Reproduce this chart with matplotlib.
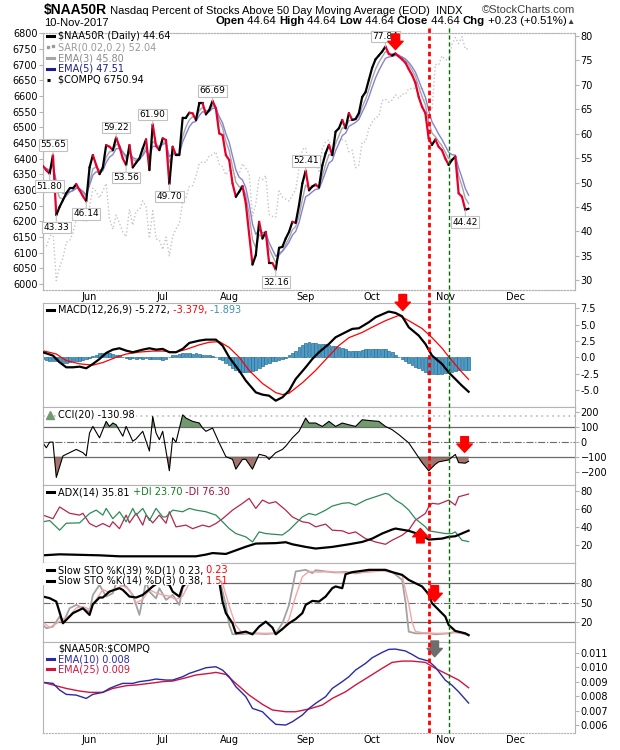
import numpy as np
import matplotlib
matplotlib.use('Agg')
import matplotlib.pyplot as plt
from matplotlib.collections import LineCollection
from matplotlib.lines import Line2D
from matplotlib.patches import Rectangle

plt.rcParams['font.family'] = ['DejaVu Sans']

# x axis is trading-day index, 0 = 11-May-2017, 128 = 10-Nov-2017
month_idx = [14, 36, 56, 79, 99, 121, 142]
month_lbl = ['Jun', 'Jul', 'Aug', 'Sep', 'Oct', 'Nov', 'Dec']

# $NAA50R close
close = [53.4, 52.5, 51.80, 55.65, 43.33, 45.03, 46.39, 47.8, 48.78, 48.78,
         49.67, 48.44, 47.21, 46.14, 53.09, 55.61, 53.57, 51.72, 53.09, 57.66,
         57.32, 56.63, 59.22, 57.32, 54.93, 53.56, 57.66, 53.09, 54.04, 54.93,
         56.97, 58.83, 52.54, 61.90, 57.46, 56.63, 59.04, 58.69, 49.70, 57.32,
         55.61, 55.61, 63.27, 63.27, 64.29, 64.15, 62.79, 66.20, 66.20, 63.95,
         64.84, 66.69, 65.18, 60.05, 59.71, 55.61, 54.59, 49.81, 47.08, 48.10,
         49.26, 45.71, 39.43, 33.21, 35.12, 41.95, 38.54, 39.90, 33.55, 33.55,
         32.16, 36.63, 36.83, 38.54, 39.90, 41.95, 41.75, 45.37, 49.81, 52.41,
         48.4, 49.2, 49.6, 49.0, 53.5, 56.0, 57.7, 55.6, 60.4, 61.1,
         62.8, 61.1, 64.2, 62.8, 63.0, 64.2, 67.5, 68.5, 71.0, 73.5,
         75.2, 76.0, 76.8, 77.84, 76.3, 76.0, 76.4, 75.8, 75.2, 74.5,
         73.2, 72.0, 70.4, 67.5, 65.5, 64.2, 59.0, 57.7, 58.8, 57.3,
         56.6, 54.9, 53.6, 54.6, 55.3, 47.8, 47.1, 44.42, 44.64]

ema3 = [53.2, 52.85, 52.3, 54.0, 48.7, 46.9, 46.6, 47.2, 48.0, 48.4,
        49.0, 48.7, 48.0, 47.1, 50.1, 52.8, 53.2, 52.5, 52.8, 55.2,
        56.3, 56.4, 57.8, 57.6, 56.2, 54.9, 56.3, 54.7, 54.4, 54.6,
        55.8, 57.3, 54.9, 58.4, 57.9, 57.3, 58.2, 58.4, 54.1, 55.7,
        55.7, 55.6, 59.4, 61.4, 62.8, 63.5, 63.1, 64.7, 65.4, 64.7,
        64.8, 65.7, 65.4, 62.7, 61.2, 58.4, 56.5, 53.2, 50.1, 49.1,
        49.2, 47.4, 43.4, 38.3, 36.7, 39.3, 38.9, 39.4, 36.5, 35.0,
        33.6, 35.1, 36.0, 37.3, 38.6, 40.3, 41.0, 43.2, 46.5, 49.5,
        48.9, 49.1, 49.3, 49.2, 51.3, 53.7, 55.7, 55.6, 58.0, 59.6,
        61.2, 61.1, 62.7, 62.7, 62.9, 63.5, 65.5, 67.0, 69.0, 71.3,
        73.2, 74.6, 75.7, 76.8, 76.5, 76.3, 76.3, 76.1, 75.6, 75.1,
        74.1, 73.0, 71.7, 69.6, 67.6, 65.9, 62.4, 60.1, 59.4, 58.4,
        57.5, 56.2, 54.9, 54.7, 55.0, 51.4, 49.3, 46.8, 45.7]

ema5 = [53.1, 52.9, 52.5, 53.6, 50.2, 48.5, 47.8, 47.8, 48.1, 48.3,
        48.8, 48.7, 48.2, 47.5, 49.4, 51.5, 52.2, 52.0, 52.4, 54.1,
        55.2, 55.7, 56.9, 57.0, 56.3, 55.4, 56.2, 55.1, 54.8, 54.8,
        55.5, 56.6, 55.2, 57.4, 57.4, 57.2, 57.8, 58.1, 55.3, 56.0,
        55.9, 55.8, 58.3, 59.9, 61.4, 62.3, 62.5, 63.7, 64.5, 64.3,
        64.5, 65.2, 65.2, 63.5, 62.2, 60.0, 58.2, 55.4, 52.6, 51.1,
        50.5, 48.9, 45.7, 41.5, 39.4, 40.3, 39.7, 39.8, 37.7, 36.3,
        34.9, 35.5, 35.9, 36.8, 37.8, 39.2, 40.0, 41.8, 44.5, 47.1,
        47.5, 48.1, 48.6, 48.7, 50.3, 52.2, 54.0, 54.5, 56.5, 58.0,
        59.6, 60.1, 61.5, 61.9, 62.3, 62.9, 64.4, 65.8, 67.5, 69.5,
        71.4, 72.9, 74.2, 75.4, 75.7, 75.8, 76.0, 75.9, 75.7, 75.3,
        74.6, 73.7, 72.6, 70.9, 69.1, 67.5, 64.7, 62.4, 61.2, 59.9,
        58.8, 57.5, 56.2, 55.7, 55.6, 53.0, 51.0, 48.8, 47.4]

compq = [6115, 6121, 6149, 6170, 6011, 6055, 6083, 6133, 6138, 6163, 6205, 6210, 6203, 6199,
         6247, 6306, 6295, 6275, 6297, 6321, 6208, 6175, 6220, 6194, 6166, 6151, 6239, 6188,
         6233, 6237, 6265, 6247, 6146, 6234, 6144, 6140,
         6110, 6150, 6090, 6153, 6176, 6194, 6261, 6275, 6312, 6314, 6344, 6385, 6390, 6388,
         6410, 6412, 6422, 6382, 6374, 6348,
         6362, 6363, 6340, 6352, 6384, 6370, 6352, 6217, 6256, 6340, 6333, 6346, 6222, 6216,
         6213, 6297, 6278, 6271, 6265, 6283, 6301, 6368, 6429,
         6435, 6375, 6393, 6397, 6360, 6432, 6454, 6460, 6429, 6448, 6454, 6461, 6456, 6422,
         6427, 6371, 6380, 6453, 6454, 6496,
         6516, 6532, 6535, 6585, 6590, 6580, 6587, 6604, 6592, 6606, 6605, 6624, 6623, 6625,
         6605, 6629, 6586, 6564, 6556, 6701, 6699, 6728,
         6716, 6715, 6764, 6787, 6767, 6789, 6750, 6751]

# labelled closes: index and side of the box
lbl_idx = [3, 2, 4, 13, 22, 25, 33, 38, 51, 70, 79, 103, 127]
lbl_up = [True, False, False, False, True, False, True, False, True, False, True, True, False]

# MACD(12,26,9)
macd_x = [0, 3, 5, 7, 9, 11, 13, 15, 17, 19, 21, 23, 25, 27, 30, 32, 34, 36, 38, 40,
          42, 44, 47, 49, 52, 54, 56, 59, 61, 64, 66, 68, 70, 72, 74, 76, 79, 81, 83, 86,
          88, 91, 93, 95, 98, 100, 103, 104, 106, 108, 110, 113, 115, 117, 120, 122, 124, 126, 128]
macd_y = [0.77, 0.26, -0.77, -1.53, -1.53, -1.43, -1.68, -1.02, -0.26, 0.66,
          1.17, 1.38, 1.02, 0.77, 1.17, 1.38, 1.17, 1.28, 0.77, 0.77,
          1.28, 2.19, 2.55, 2.70, 2.70, 1.79, 0.0, -2.04, -3.57, -5.36,
          -5.71, -5.87, -6.63, -6.12, -5.10, -3.32, -1.53, -0.26, 0.77, 2.04,
          3.06, 3.83, 4.34, 4.44, 5.36, 6.12, 6.78, 6.99, 6.78, 6.27,
          4.59, 3.32, 2.04, 0.26, -1.02, -2.30, -3.32, -4.34, -5.27]
sig_x = [0, 4, 7, 11, 15, 18, 22, 25, 29, 33, 36, 40, 43, 47, 50, 53, 56, 59, 62, 66,
         70, 72, 74, 78, 82, 86, 89, 92, 96, 99, 103, 107, 110, 114, 117, 120, 122, 124, 126, 128]
sig_y = [1.0, 0.5, -0.5, -1.0, -1.2, -0.8, 0.0, 0.5, 0.8, 0.95,
         0.95, 0.8, 1.2, 1.9, 2.3, 2.4, 1.5, 0.0, -2.0, -4.0,
         -5.4, -5.7, -5.5, -3.9, -2.0, 0.2, 1.8, 3.0, 3.8, 4.6,
         5.6, 6.4, 5.6, 4.4, 3.0, 1.4, 0.1, -1.1, -2.3, -3.38]
hist = [-0.3, -0.4, -0.5, -0.6, -0.6, -0.7, -0.8, -0.8, -0.7, -0.6,
        -0.6, -0.5, -0.4, -0.3, -0.1, 0.2, 0.4, 0.6, 0.7, 0.6,
        0.6, 0.5, 0.4, 0.3, 0.1, -0.1, -0.2, -0.1, -0.2, -0.1,
        -0.2, -0.1, -0.3, -0.2, -0.3, -0.2, -0.4, -0.2, 0.1, 0.3,
        0.4, 0.5, 0.6, 0.6, 0.6, 0.5, 0.6, 0.5, 0.4, 0.4,
        0.3, 0.2, 0.0, -0.2, -0.4, -0.8, -1.2, -1.6, -2.0, -2.2,
        -2.2, -2.3, -2.3, -2.1, -1.9, -1.6, -1.3, -1.1, -0.8, -0.6,
        -0.5, -0.4, -0.2, -0.1, 0.3, 0.6, 1.0, 1.6, 1.9, 2.2,
        2.3, 2.2, 2.2, 2.1, 2.1, 2.0, 1.9, 1.8, 1.7, 1.5,
        1.4, 1.2, 1.0, 0.9, 0.9, 1.0, 1.1, 1.2, 1.2, 1.3,
        1.3, 1.3, 1.2, 1.2, 1.0, 0.8, 0.4, 0.0, -0.3, -0.6,
        -0.9, -1.2, -1.5, -1.7, -1.9, -2.2, -2.5, -2.6, -2.6, -2.6,
        -2.5, -2.4, -2.3, -2.2, -2.1, -2.0, -2.0, -1.9, -1.89]

# CCI(20)
cci_x = [0, 1, 2, 3, 4, 6, 8, 10, 12, 13, 14, 15, 17, 19, 20, 21, 22, 24, 25, 27,
         28, 30, 32, 33, 34, 35, 36, 38, 39, 40, 42, 43, 45, 47, 48, 49, 51, 53, 55, 57,
         58, 60, 61, 63, 65, 67, 68, 69, 70, 72, 73, 75, 77, 79, 80, 82, 84, 86, 88, 90,
         92, 94, 96, 98, 101, 103, 105, 107, 110, 112, 114, 116, 118, 119, 122, 124, 125, 127, 128]
cci_y = [-7, -40, -2, -2, -240, -95, -73, -51, -73, -95, 60, 104, 27, 138, 104, 127, 115, 38, 104, 4,
         20, 71, -62, 171, 60, 15, 71, -195, 27, -2, 182, 160, 138, 127, 93, 71, 93, -7, -100, -118,
         -184, -118, -118, -184, -84, -95, -118, -95, -73, -51, -29, 27, 71, 160, 127, 127, 104, 138, 104, 127,
         115, 104, 149, 144, 138, 104, 82, 49, -7, -73, -140, -195, -151, -135, -122, -85, -140, -144, -131]

# ADX(14), +DI, -DI
adx_x = [0, 5, 17, 23, 35, 46, 49, 51, 55, 58, 61, 64, 70, 73, 75, 79, 82, 87, 92, 96,
         99, 102, 105, 106, 110, 114, 116, 120, 122, 124, 128]
adx_y = [8.5, 9.6, 8.5, 7.4, 7.4, 7.4, 9.3, 11, 10, 14, 18, 21.5, 22, 23, 20.7, 17.8, 16, 17.8, 20.7, 23.3,
         27, 32.6, 37, 38.1, 35.6, 30.7, 25.9, 27, 28.9, 29.6, 35.81]
mdi_x = [0, 3, 5, 8, 11, 12, 14, 16, 18, 20, 21, 23, 25, 26, 28, 30, 31, 33, 35, 37,
         38, 40, 43, 45, 48, 50, 52, 54, 57, 60, 62, 64, 66, 68, 70, 73, 75, 78, 80, 82,
         85, 87, 90, 92, 94, 97, 100, 103, 105, 108, 110, 112, 115, 116, 117, 119, 122, 124, 125, 128]
mdi_y = [53, 49, 62, 55, 53, 55, 43.7, 40, 43.7, 40, 45.6, 38, 53, 44.4, 55, 41.9, 53, 44.4, 53, 44,
         56.7, 40, 41.9, 38, 41.9, 40, 43.7, 49, 58.5, 66, 71.5, 60.4, 69.6, 66, 67.8, 58.5, 51, 45.6, 44.4, 40,
         43, 36.3, 35.6, 32.6, 34.4, 27, 23.3, 20.7, 25.2, 30.7, 36.3, 47.4, 54.8, 62.2, 66, 65.2, 69.6, 64, 73.3, 76.3]
pdi_x = [0, 2, 5, 7, 11, 14, 16, 18, 19, 21, 23, 25, 27, 28, 30, 32, 34, 36, 37, 39,
         42, 44, 46, 49, 52, 54, 56, 58, 61, 63, 65, 67, 69, 72, 74, 76, 78, 80, 82, 85,
         87, 90, 92, 94, 97, 100, 103, 104, 106, 108, 110, 112, 115, 116, 118, 121, 123, 124, 126, 128]
pdi_y = [45.6, 47, 36.3, 44, 44.4, 54.8, 58.5, 53, 60.4, 49, 56.7, 45.6, 60.4, 53, 60.4, 47, 60.4, 51, 51, 58.5,
         56.7, 60.4, 58.5, 56.7, 53, 45.6, 38.1, 32.6, 28.9, 23.3, 34.4, 32.6, 31.9, 31, 36.3, 43.7, 51, 54.8, 53, 58.5,
         63, 66, 66.7, 64, 69.6, 73.3, 77, 76, 69.6, 65.2, 58.5, 49, 40, 35.6, 34.4, 32.6, 32.6, 34.4, 25.2, 23.7]

# slow stochastics
k39_x = [0, 2, 4, 6, 9, 11, 12, 14, 15, 17, 18, 20, 23, 24, 26, 28, 30, 33, 35, 38,
         39, 41, 42, 45, 48, 51, 52, 53, 54, 55, 57, 58, 60, 61, 63, 65, 67, 69, 70, 72,
         74, 76, 78, 79, 81, 83, 85, 87, 88, 90, 91, 93, 96, 98, 100, 103, 105, 108, 110, 112,
         114, 116, 117, 119, 121, 122, 124, 127, 128]
k39_y = [59.5, 57, 51.8, 18.5, 34, 39, 41.5, 31.3, 47.7, 58, 58, 67.2, 72.3, 69.7, 59.5, 58, 62, 75, 82, 77.4,
         67, 59.5, 75, 88, 92, 95, 90, 82.6, 51.8, 34, 18.5, 3, 4.6, 5.6, 1.5, 13.3, 21, 11.8, 1.5, 9.7,
         18.5, 25, 34, 46.7, 52.8, 51.8, 59.5, 72.3, 75, 72.3, 93.8, 97, 99, 100.5, 100.5, 100.5, 97, 92.8, 85, 80,
         75, 63, 49.2, 39, 28.7, 15.9, 6.7, 3, 0.23]
k14_x = [0, 1, 3, 5, 6, 8, 10, 12, 14, 15, 17, 19, 21, 22, 25, 27, 29, 31, 32, 34,
         35, 37, 39, 41, 42, 44, 46, 49, 51, 53, 55, 56, 57, 60, 63, 67, 70, 72, 74, 75,
         76, 79, 81, 82, 86, 88, 91, 94, 98, 102, 105, 108, 109, 110, 112, 116, 118, 122, 124, 128]
k14_y = [16, 10.8, 13.3, 28.7, 18.5, 41.5, 46.7, 41.5, 36.4, 62, 77.4, 59.5, 64.6, 80, 75, 62, 31.3, 82.6, 67, 56.7,
         72.3, 54.4, 62, 46.7, 72.3, 90, 95, 96, 97, 88, 46.7, 16, 1.5, 2, 3, 2, 3, 18.5, 46.7, 72.3,
         98, 100.5, 95.4, 100, 97.4, 96.4, 97.4, 95, 98.5, 100, 97.4, 85, 51.8, 5.6, 3, 3, 1.5, 3, 5.6, 0.38]
d3_x = [0, 2, 4, 6, 8, 10, 12, 14, 16, 18, 20, 22, 24, 26, 28, 30, 32, 34, 36, 38,
        40, 42, 44, 46, 49, 52, 54, 56, 58, 60, 63, 67, 70, 72, 74, 76, 78, 80, 83, 86,
        90, 94, 98, 102, 106, 108, 110, 111, 112, 114, 118, 122, 124, 126, 128]
d3_y = [20, 12, 18, 25, 30, 42, 44, 40, 55, 70, 66, 72, 76, 70, 50, 55, 70, 65, 62, 60,
        55, 60, 80, 92, 95, 95, 80, 45, 15, 3, 3, 3, 3, 8, 25, 60, 90, 98, 97, 98,
        96, 96, 97, 99, 96, 92, 48, 20, 6, 4, 3, 3, 4, 3, 1.51]

# $NAA50R:$COMPQ ratio EMAs
e10_x = [0, 3, 5, 7, 10, 13, 15, 18, 20, 22, 24, 27, 29, 32, 34, 37, 39, 42, 44, 47,
         49, 52, 54, 56, 58, 61, 63, 66, 68, 70, 73, 75, 78, 80, 82, 85, 87, 90, 92, 94,
         97, 99, 102, 104, 106, 109, 111, 113, 116, 118, 121, 123, 125, 128]
e10_y = [0.00895, 0.00888, 0.00842, 0.00812, 0.00807, 0.00784, 0.00812, 0.00826, 0.00853, 0.00872,
         0.00888, 0.00888, 0.00900, 0.00909, 0.00918, 0.00911, 0.00911, 0.00934, 0.00957, 0.00980,
         0.00996, 0.01003, 0.00980, 0.00934, 0.00865, 0.00796, 0.00715, 0.00692, 0.00646, 0.00605,
         0.00600, 0.00623, 0.00669, 0.00715, 0.00750, 0.00796, 0.00853, 0.00900, 0.00934, 0.00980,
         0.01026, 0.01065, 0.01102, 0.01123, 0.01125, 0.01112, 0.01088, 0.01061, 0.01042, 0.01000,
         0.00910, 0.00875, 0.00830, 0.00752]
e25_x = [0, 3, 7, 11, 14, 18, 21, 25, 28, 32, 36, 39, 43, 46, 50, 52, 55, 58, 62, 66,
         69, 73, 76, 80, 84, 87, 91, 94, 98, 102, 105, 108, 111, 115, 118, 122, 125, 128]
e25_y = [0.00895, 0.00877, 0.00853, 0.00835, 0.00826, 0.00826, 0.00853, 0.00872, 0.00877, 0.00888,
         0.00900, 0.00904, 0.00927, 0.00946, 0.00957, 0.00964, 0.00950, 0.00888, 0.00807, 0.00743,
         0.00704, 0.00692, 0.00692, 0.00711, 0.00738, 0.00784, 0.00830, 0.00877, 0.00934, 0.00992,
         0.01033, 0.01042, 0.01042, 0.01033, 0.00992, 0.00946, 0.00911, 0.00858]

red_day = 116
green_day = 122

W, H = 620, 750
FRAME = '#b4b4b4'
fig = plt.figure(figsize=(6.2, 7.5), dpi=100)


def panel(top, bot):
    ax = fig.add_axes([43 / W, 1 - bot / H, 532 / W, (bot - top) / H])
    ax.set_xlim(0, 160)
    for s in ax.spines.values():
        s.set_color(FRAME)
    ax.set_xticks([])
    ax.yaxis.tick_right()
    ax.tick_params(axis='y', labelsize=7, color=FRAME, length=3, width=0.8, pad=1)
    return ax


def legend(ax, y, parts, mcolor=None, mstyle='-', bg=False):
    if mcolor is not None:
        ax.plot([0.0075, 0.0207], [y, y], transform=ax.transAxes, color=mcolor, lw=2.2,
                ls=mstyle, clip_on=False, zorder=6)
    box = dict(fc='white', ec='none', pad=0.6) if bg else None
    t = ax.text(0.0282, y, parts[0][0], color=parts[0][1], transform=ax.transAxes,
                fontsize=7, va='center', zorder=7, bbox=box)
    for txt, col in parts[1:]:
        t = ax.annotate(txt, xy=(1, 0), xycoords=t, va='bottom', ha='left', color=col,
                        fontsize=7, zorder=7, bbox=box, annotation_clip=False)


def arrow(ax, x, y_tail, y_tip, color='#ff0000'):
    ax.annotate('', xy=(x, y_tip), xytext=(x, y_tail),
                arrowprops=dict(arrowstyle='simple,head_length=0.6,head_width=1.1,tail_width=0.55',
                                color=color, mutation_scale=10, shrinkA=0, shrinkB=0),
                annotation_clip=False, zorder=9)


# ---- main panel ----
ax_l = panel(33, 290)
ax_l.yaxis.tick_left()
ax_l.tick_params(axis='y', labelsize=7, color=FRAME, length=3, width=0.8, pad=1)
ax_m = ax_l.twinx()
ax_m.set_xlim(0, 160)
for s in ax_m.spines.values():
    s.set_color(FRAME)
for a in (ax_l, ax_m):
    a.spines['top'].set_linestyle(':')
    a.spines['bottom'].set_linestyle(':')
ax_m.tick_params(axis='y', labelsize=7, color=FRAME, length=3, width=0.8, pad=1)

days = list(range(len(close)))
ax_l.plot(days, compq, color='#c4c4c4', lw=1.0, ls=':', zorder=1)
ax_l.set_ylim(5981, 6801)
ax_l.set_yticks(range(6000, 6801, 50))

ax_m.plot(days, ema3, color='#a6a6a6', lw=1.0, zorder=2)
ax_m.plot(days, ema5, color='#8484d4', lw=1.0, zorder=2)
segs = [[(days[i - 1], close[i - 1]), (days[i], close[i])] for i in range(1, len(close))]
cols = ['#e4002b' if close[i] < close[i - 1] else '#000000' for i in range(1, len(close))]
ax_m.add_collection(LineCollection(segs, colors=cols, linewidths=1.6, zorder=4, capstyle='round'))
ax_m.set_ylim(28, 80.6)
ax_m.set_yticks(range(30, 81, 5))

for i, up in zip(lbl_idx, lbl_up):
    ax_m.annotate('%.2f' % close[i], xy=(i, close[i]), xytext=(0, 10 if up else -12.5),
                  textcoords='offset pixels', ha='center', va='center', fontsize=6.5,
                  bbox=dict(boxstyle='square,pad=0.15', fc='white', ec='#c0c0c0', lw=0.8),
                  arrowprops=dict(arrowstyle='-', color='#c0c0c0', lw=0.8, shrinkA=0, shrinkB=0),
                  annotation_clip=False, zorder=5)

arrow(ax_m, 106, 80.4, 77.2)

ax_l.set_xticks(month_idx)
ax_l.set_xticklabels(month_lbl)
ax_l.tick_params(axis='x', length=0, pad=1.5, labelsize=7)

legend(ax_m, 0.988, [('$NAA50R (Daily) 44.64', 'black')], '#000000')
ax_m.plot([0.010, 0.019], [0.944, 0.950], transform=ax_m.transAxes, marker='s', ms=1.8,
          ls='none', color='#9a9a9a', clip_on=False)
legend(ax_m, 0.944, [('SAR(0.02,0.2) 52.04', '#9a9a9a')])
legend(ax_m, 0.901, [('EMA(3) 45.80', '#8a8a8a')], '#a6a6a6')
legend(ax_m, 0.860, [('EMA(5) 47.51', '#1c1c8c')], '#1c1c8c')
legend(ax_m, 0.819, [('$COMPQ 6750.94', 'black')], '#000000', ':')

# ---- MACD ----
ax = panel(303, 407)
ax.bar(days, hist, width=0.85, color='#4a9ccb', edgecolor='#2b6e93', linewidth=0.5, zorder=1)
ax.plot(sig_x, sig_y, color='#ff0000', lw=0.9, zorder=2)
ax.plot(macd_x, macd_y, color='#000000', lw=1.6, zorder=3)
ax.set_ylim(-7.6, 8.3)
ax.set_yticks([-5, -2.5, 0, 2.5, 5, 7.5])
ax.set_yticklabels(['-5.0', '-2.5', '0.0', '2.5', '5.0', '7.5'])
legend(ax, 0.933, [('MACD(12,26,9) -5.272,', 'black'), (' -3.379,', '#ff0000'),
                   (' -1.893', '#3f8fb5')], '#000000')
arrow(ax, 108.2, 9.6, 7.15)

# ---- CCI ----
ax = panel(407, 485)
cx = np.array(cci_x)
cy = np.array(cci_y)
ax.fill_between(cx, cy, 100, where=cy > 100, interpolate=True, color='#6f9b6f', lw=0, zorder=1)
ax.fill_between(cx, cy, -100, where=cy < -100, interpolate=True, color='#a4746e', lw=0, zorder=1)
ax.axhline(175, color='#c4c4c4', lw=1.3, ls=(0, (1, 2)), zorder=1)
ax.axhline(100, color='#6a6a6a', lw=0.9, zorder=1)
ax.axhline(-100, color='#6a6a6a', lw=0.9, zorder=1)
ax.axhline(0, color='#6a6a6a', lw=0.8, ls='-.', zorder=1)
ax.plot(cx, cy, color='#000000', lw=0.8, zorder=2)
ax.set_ylim(-291, 235)
ax.set_yticks([-200, -100, 0, 100, 200])
ax.plot([0.014], [0.90], transform=ax.transAxes, marker='^', ms=5.5, color='#6f9b6f',
        clip_on=False, zorder=8, ls='none')
legend(ax, 0.906, [('CCI(20) -130.98', 'black')], bg=True)
arrow(ax, 126.8, 35, -71)

# ---- ADX ----
ax = panel(485, 563)
ax.plot(mdi_x, mdi_y, color='#b5254f', lw=0.9, zorder=1)
ax.plot(pdi_x, pdi_y, color='#2e8b57', lw=0.9, zorder=1)
ax.plot(adx_x, adx_y, color='#000000', lw=1.6, zorder=2)
ax.set_ylim(0, 86.3)
ax.set_yticks([20, 40, 60, 80])
legend(ax, 0.906, [('ADX(14) 35.81', 'black'), (' +DI 23.70', '#0f7a1f'),
                   (' -DI 76.30', '#a0103c')], '#000000')
arrow(ax, 113.5, 22.2, 38.2)

# ---- Slow stochastics ----
ax = panel(563, 642)
ax.axhline(80, color='#6a6a6a', lw=0.9, zorder=1)
ax.axhline(20, color='#6a6a6a', lw=0.9, zorder=1)
ax.axhline(50, color='#6a6a6a', lw=0.8, ls='-.', zorder=1)
ax.plot(k14_x, k14_y, color='#a3a3a3', lw=1.3, zorder=2)
ax.plot(d3_x, d3_y, color='#f2a6a6', lw=1.0, zorder=2)
ax.plot(k39_x, k39_y, color='#000000', lw=1.6, zorder=2)
ax.add_patch(Rectangle((0, 0.72), 0.335, 0.28, transform=ax.transAxes, fc='white', ec='none', zorder=3))
ax.set_ylim(-10.3, 111)
ax.set_yticks([20, 50, 80])
legend(ax, 0.911, [('Slow STO %K(39) %D(1) 0.23,', 'black'), (' 0.23', '#ff0000')], '#000000')
legend(ax, 0.776, [('Slow STO %K(14) %D(3) 0.38,', 'black'), (' 1.51', '#ff0000')], '#000000')
arrow(ax, 117.8, 76.3, 51.7)

# ---- ratio panel ----
ax = panel(642, 733)
ax.spines['bottom'].set_linestyle(':')
ax.plot(e25_x, e25_y, color='#d3143c', lw=1.0, zorder=2)
ax.plot(e10_x, e10_y, color='#2a2aa6', lw=1.0, zorder=2)
ax.set_ylim(0.00545, 0.01174)
ax.set_yticks([0.006, 0.007, 0.008, 0.009, 0.010, 0.011])
ax.set_yticklabels(['0.006', '0.007', '0.008', '0.009', '0.010', '0.011'])
ax.set_xticks(month_idx)
ax.set_xticklabels(month_lbl)
ax.tick_params(axis='x', length=0, pad=1.5, labelsize=7)
legend(ax, 0.931, [(r'\$NAA50R:\$COMPQ', 'black')])
legend(ax, 0.810, [('EMA(10) 0.008', '#2a2aa6')], '#2a2aa6')
legend(ax, 0.701, [('EMA(25) 0.009', '#d3143c')], '#d3143c')
arrow(ax, 117.8, 0.01181, 0.01072, color='#6e6e6e')

# ---- vertical marker lines across all panels ----
for day, col, lw, dash in [(red_day, '#ff0000', 2.0, (1.6, 1.2)), (green_day, '#007000', 1.0, (3, 2))]:
    xf = ax_m.transData.transform((day, 50))[0] / fig.bbox.width
    fig.add_artist(Line2D([xf, xf], [1 - 28 / H, 1 - 733 / H], transform=fig.transFigure,
                          color=col, lw=lw, dashes=dash, zorder=5))

# ---- header ----
TF = ['Liberation Sans', 'DejaVu Sans']
t = fig.text(44 / W, 1 - 10 / H, '$NAA50R', fontsize=10, fontweight='bold', family=TF, va='center')
ax_l.annotate(' Nasdaq Percent of Stocks Above 50 Day Moving Average (EOD)  INDX', xy=(1, 0.08),
              xycoords=t, va='bottom', fontsize=8, family=TF, annotation_clip=False)
fig.text(575 / W, 1 - 10 / H, '\u00a9StockCharts.com', fontsize=8, family=TF, color='#404040',
         ha='right', va='center')
fig.text(44 / W, 1 - 23 / H, '10-Nov-2017', fontsize=8, family=TF, va='center')
pieces = [('Open', 'bold'), (' 44.64 ', 'normal'), ('High', 'bold'), (' 44.64 ', 'normal'),
          ('Low', 'bold'), (' 44.64 ', 'normal'), ('Close', 'bold'), (' 44.64 ', 'normal'),
          ('Chg', 'bold'), (' +0.23 (+0.51%)', 'normal')]
t = fig.text(575 / W, 1 - 23 / H, '\u25b2', fontsize=6, family=TF, color='#404040',
             ha='right', va='center')
for txt, wt in reversed(pieces):
    t = ax_l.annotate(txt, xy=(0, 0), xycoords=t, ha='right', va='bottom', fontsize=8.2,
                      fontweight=wt, family=TF, annotation_clip=False)

fig.savefig('out.png', dpi=100)
